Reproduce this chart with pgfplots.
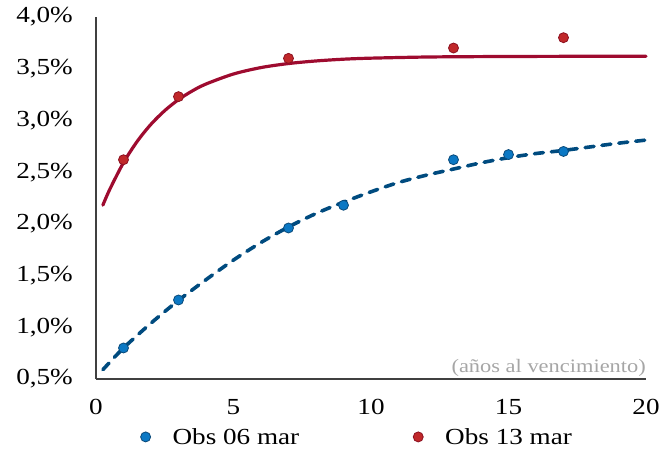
\documentclass[border=0pt]{standalone}
\usepackage{fontspec}
\setmainfont{Liberation Serif}[FakeStretch=1.18]
\usepackage{pgfplots}
\pgfplotsset{compat=1.18}
\definecolor{redline}{HTML}{9E0B2F}
\definecolor{redpt}{HTML}{C0282A}
\definecolor{rededge}{HTML}{8C1020}
\definecolor{blueline}{HTML}{004B7F}
\definecolor{bluept}{HTML}{0B78C4}
\definecolor{blueedge}{HTML}{0A4A7A}
\definecolor{axisgray}{HTML}{404040}
\begin{document}
\begin{tikzpicture}
\begin{axis}[
  at={(0,0)}, anchor=south west,
  scale only axis, width=550bp, height=362bp,
  xmin=0, xmax=20, ymin=0.5, ymax=4.0,
  axis x line*=bottom, axis y line*=left,
  axis line style={axisgray, line width=1.2bp, -},
  xtick={0,5,10,15,20},
  ytick={0.5,1.0,1.5,2.0,2.5,3.0,3.5,4.0},
  major tick length=0pt,
  /pgf/number format/assume math mode=true,
  tick label style={font=\fontsize{23bp}{27bp}\selectfont, text=black},
  yticklabel={\pgfmathprintnumber[fixed,fixed zerofill,precision=1,use comma]{\tick}\%},
  yticklabel style={inner sep=0pt, xshift=-23bp},
  xticklabel style={inner sep=0pt, yshift=-20bp},
  legend style={draw=none, at={(0.475,-0.16)}, anchor=center, legend columns=2,
    font=\fontsize{23bp}{27bp}\selectfont,
    /tikz/every odd column/.append style={column sep=20bp},
    /tikz/every even column/.append style={column sep=112bp}},
  clip=false,
]
\addplot[only marks, mark=*, mark size=5bp, mark options={fill=bluept, draw=blueedge, line width=0.8bp}]
coordinates {(1,0.80) (3,1.264) (7,1.96) (9,2.18) (13,2.62) (15,2.67) (17,2.70)};
\addlegendentry{Obs 06 mar}
\addplot[only marks, mark=*, mark size=5bp, mark options={fill=redpt, draw=rededge, line width=0.8bp}]
coordinates {(1,2.62) (3,3.23) (7,3.60) (13,3.70) (17,3.80)};
\addlegendentry{Obs 13 mar}
\addplot[forget plot, redline, line width=3.2bp, line cap=round, smooth]
coordinates {(0.25,2.181) (0.5,2.333) (1,2.592) (1.5,2.798) (2,2.963) (2.5,3.095) (3,3.201) (3.5,3.285) (4,3.352) (5,3.449) (6,3.511) (7,3.550) (8,3.575) (9,3.592) (10,3.602) (12,3.613) (14,3.617) (16,3.619) (18,3.620) (20,3.620)};
\addplot[forget plot, blueline, line width=3.6bp, line cap=round, dash pattern=on 9bp off 8bp, smooth]
coordinates {(0.25,0.59) (1,0.80) (2,1.04) (3,1.26) (4,1.46) (5,1.65) (6,1.82) (7,1.97) (8,2.10) (9,2.21) (10,2.31) (11,2.40) (12,2.47) (13,2.53) (14,2.59) (15,2.64) (16,2.68) (17,2.71) (18,2.745) (19,2.78) (20,2.81)};
\node[anchor=base east, inner sep=0pt, text=black!35, font=\fontsize{19bp}{22bp}\selectfont] at (axis cs:20,0.5) [yshift=7bp] {(años al vencimiento)};
\end{axis}
\path[use as bounding box] (-96bp,-72bp) rectangle (564bp,379bp);
\end{tikzpicture}
\end{document}
